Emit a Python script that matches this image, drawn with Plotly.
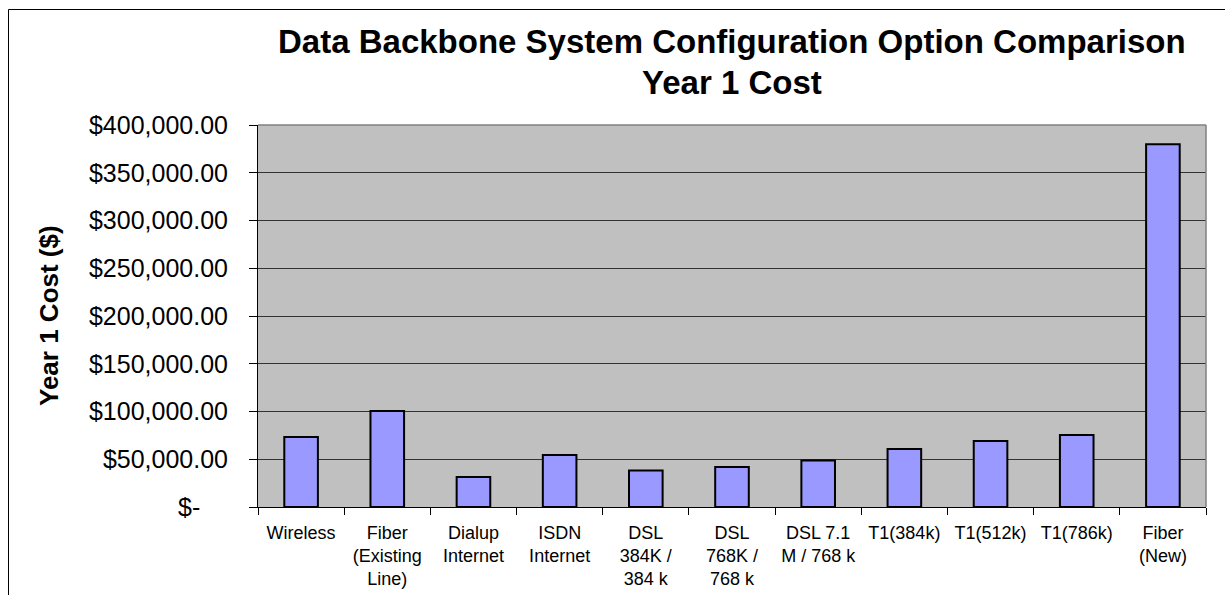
import plotly.graph_objects as go

# Configuration options and their first-year costs (USD)
categories = [
    "Wireless",
    "Fiber<br>(Existing<br>Line)",
    "Dialup<br>Internet",
    "ISDN<br>Internet",
    "DSL<br>384K /<br>384 k",
    "DSL<br>768K /<br>768 k",
    "DSL 7.1<br>M / 768 k",
    "T1(384k)",
    "T1(512k)",
    "T1(786k)",
    "Fiber<br>(New)",
]
year1_cost = [73300, 100500, 31400, 54500, 38100, 41900, 48600, 60700, 69100, 75400, 379800]

y_tickvals = [0, 50000, 100000, 150000, 200000, 250000, 300000, 350000, 400000]
y_ticktext = ["$-\u00a0\u00a0\u00a0\u00a0", "$50,000.00", "$100,000.00", "$150,000.00",
              "$200,000.00", "$250,000.00", "$300,000.00", "$350,000.00", "$400,000.00"]

W, H = 1225, 595
L, R, T, B = 258, 19, 125, 88
pw, ph = W - L - R, H - T - B


def px_x(x):
    return (x - L) / pw


def px_y(y):
    return (H - B - y) / ph


fig = go.Figure(
    go.Bar(
        x=categories,
        y=year1_cost,
        marker=dict(color="#9999FF", line=dict(color="black", width=2)),
        width=0.39,
    )
)

font = "Arial, Liberation Sans, sans-serif"

fig.update_layout(
    width=W,
    height=H,
    margin=dict(l=L, r=R, t=T, b=B, pad=0, autoexpand=False),
    paper_bgcolor="white",
    plot_bgcolor="#C0C0C0",
    showlegend=False,
    font=dict(family=font, color="black"),
)

fig.update_yaxes(
    range=[0, 400000],
    tickvals=y_tickvals,
    ticktext=y_ticktext,
    tickfont=dict(size=25),
    ticks="outside",
    ticklen=8,
    tickcolor="black",
    showline=True,
    linecolor="black",
    linewidth=1,
    showgrid=True,
    gridcolor="#333333",
    gridwidth=1,
    zeroline=False,
    ticklabelstandoff=16,
    automargin=False,
)

fig.update_xaxes(
    tickfont=dict(size=18),
    ticks="outside",
    ticklen=7,
    tickcolor="black",
    tickson="boundaries",
    showline=True,
    linecolor="black",
    linewidth=1,
    showgrid=False,
    ticklabelstandoff=9,
    automargin=False,
)

# Plot area frame on the top and right sides
fig.add_shape(type="line", xref="paper", yref="paper", x0=0, x1=1, y0=1, y1=1,
              line=dict(color="#808080", width=1.5))
fig.add_shape(type="line", xref="paper", yref="paper", x0=1, x1=1, y0=0, y1=1,
              line=dict(color="#808080", width=1.5))

# Outer chart frame
fig.add_shape(type="rect", xref="paper", yref="paper",
              x0=px_x(8.5), x1=px_x(1240), y0=px_y(610), y1=px_y(9.5),
              line=dict(color="black", width=1), fillcolor="rgba(0,0,0,0)")

# Title lines
fig.add_annotation(text="<b>Data Backbone System Configuration Option Comparison</b>",
                   xref="paper", yref="paper", x=0.5, y=px_y(41), yanchor="middle",
                   showarrow=False, font=dict(size=33, family=font))
fig.add_annotation(text="<b>Year 1 Cost</b>",
                   xref="paper", yref="paper", x=0.5, y=px_y(82), yanchor="middle",
                   showarrow=False, font=dict(size=33, family=font))

# Y-axis title
fig.add_annotation(text="<b>Year 1 Cost ($)</b>",
                   xref="paper", yref="paper", x=px_x(49), y=0.5, textangle=-90,
                   xanchor="center", yanchor="middle",
                   showarrow=False, font=dict(size=26, family=font))

fig.write_html("out.html")
